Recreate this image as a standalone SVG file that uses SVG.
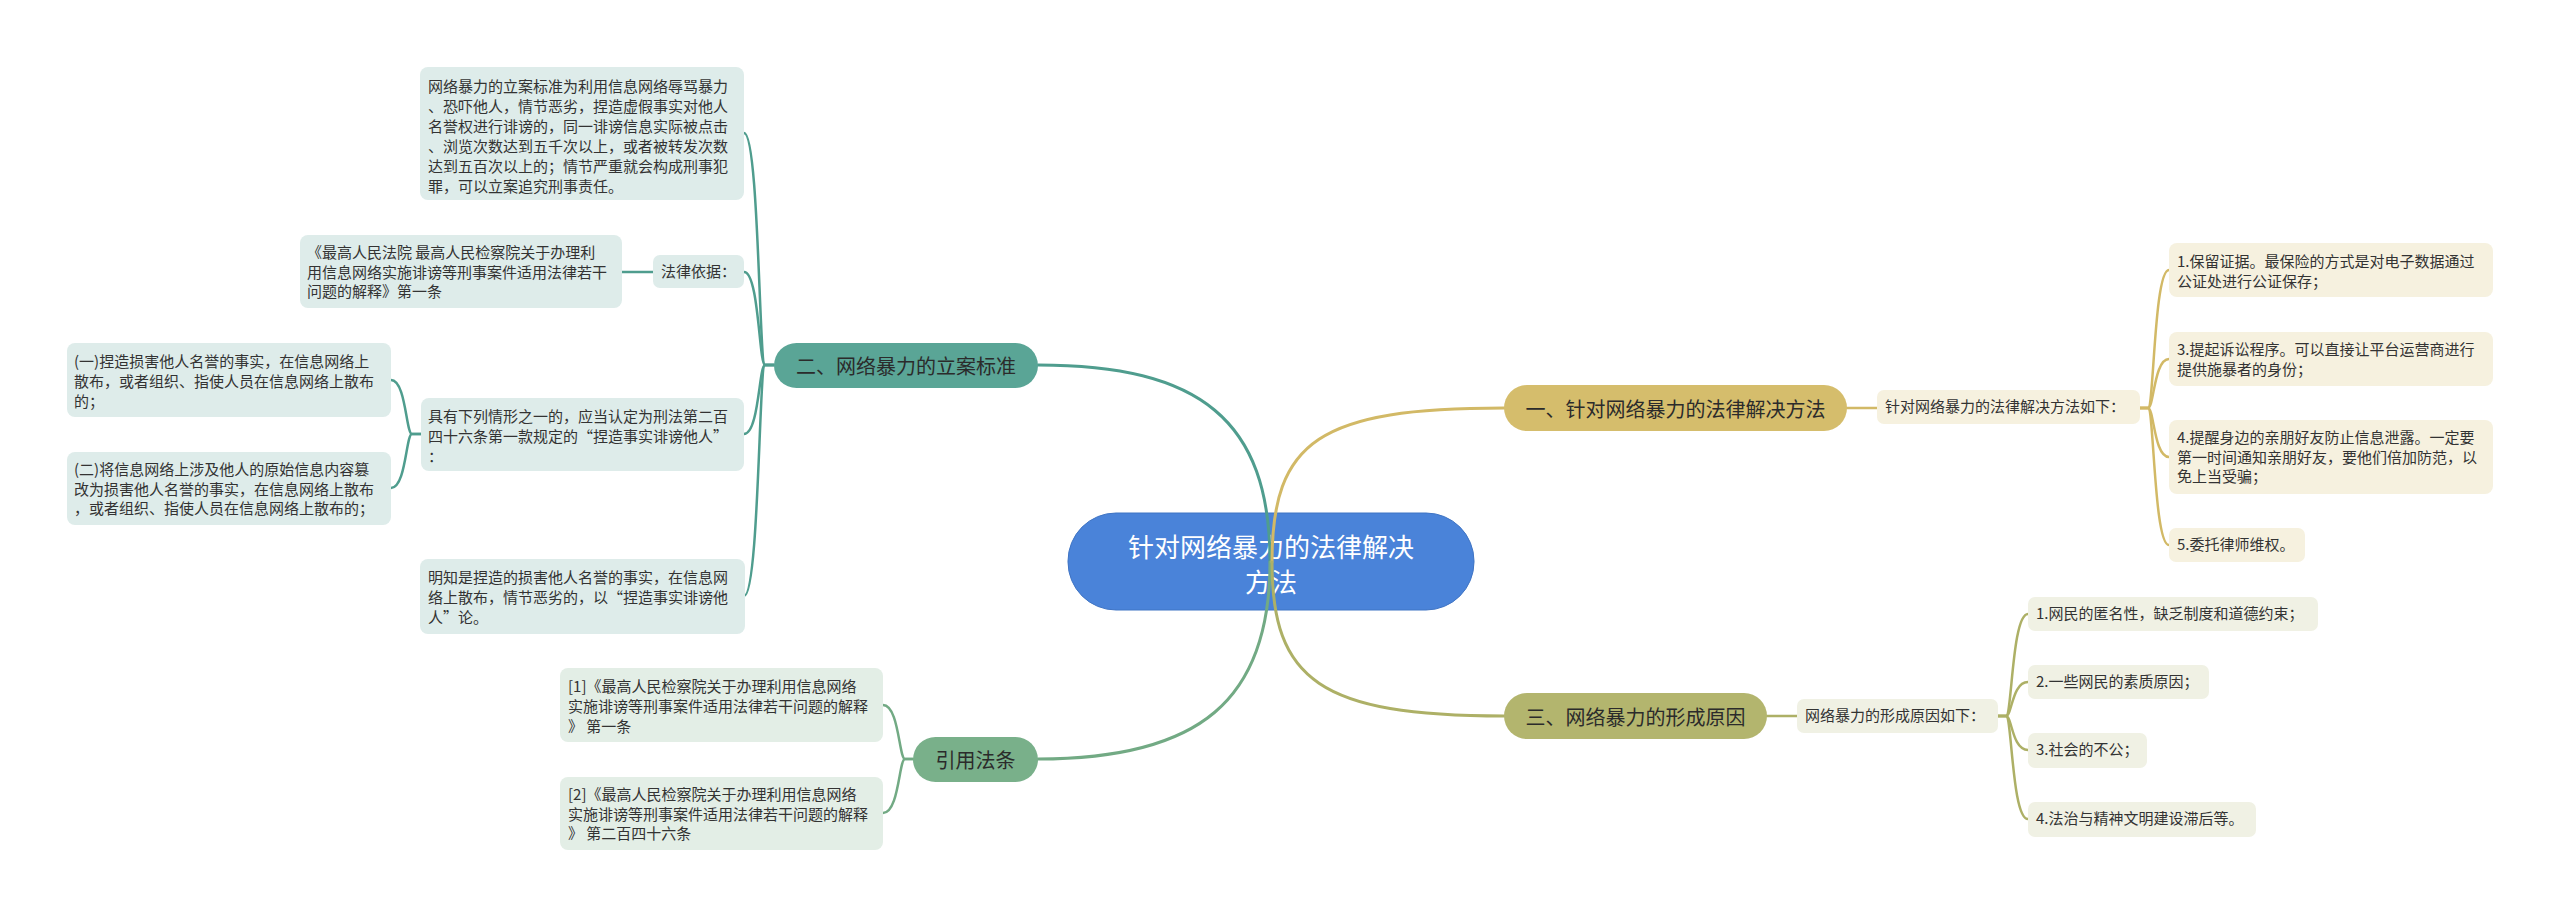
<svg xmlns="http://www.w3.org/2000/svg" width="2560" height="917" viewBox="0 0 2560 917">
<style>
text{font-family:"Noto Sans CJK SC","Noto Sans",sans-serif;fill:#333;}
.t{font-size:15px;}
.m{font-size:20px;text-anchor:middle;dominant-baseline:central;fill:#2b2b2b;}
.root{font-size:26px;text-anchor:middle;dominant-baseline:central;fill:#fff;}
.c{fill:none;stroke-linecap:round;stroke-width:2.5;}
.main{stroke-width:3;}
.teal{stroke:#4f9d8e;}
.green{stroke:#72aa84;}
.gold{stroke:#d2b966;}
.olive{stroke:#adb066;}
.bt{fill:#deecea;}
.bg{fill:#e3eee6;}
.by{fill:#f6f1df;}
.bo{fill:#f0f1e4;}
</style>
<rect width="2560" height="917" fill="#fff"/>

<g id="root">
<rect x="1068" y="513" width="406" height="97" rx="48" fill="#4a83d9" stroke="#3f74c4" stroke-width="1"/>
<text class="root" x="1271" y="545">针对网络暴力的法律解决</text>
<text class="root" x="1271" y="580">方法</text>
</g>

<g id="connectors">
<path class="c main teal" d="M1270 562 C1270 420 1200 365 1038 365"/>
<path class="c main green" d="M1270 562 C1270 700 1200 759 1038 759"/>
<path class="c main gold" d="M1272 562 C1272 440 1320 408 1504 408"/>
<path class="c main olive" d="M1272 562 C1272 680 1320 716 1504 716"/>

<path class="c teal" d="M774 365 L765 365 C759 365 759 133 744 133"/>
<path class="c teal" d="M774 365 L765 365 C759 365 759 272 744 272"/>
<path class="c teal" d="M774 365 L765 365 C759 365 759 434 744 434"/>
<path class="c teal" d="M774 365 L765 365 C759 365 759 596 744 596"/>
<path class="c teal" d="M622 272 L653 272"/>
<path class="c teal" d="M421 434 L412 434 C406 434 406 380 391 380"/>
<path class="c teal" d="M421 434 L412 434 C406 434 406 488 391 488"/>

<path class="c green" d="M913 759 L905 759 C899 759 899 705 883 705"/>
<path class="c green" d="M913 759 L905 759 C899 759 899 813 883 813"/>

<path class="c gold" d="M1847 408 L1877 408"/>
<path class="c gold" d="M2140 408 L2148 408 C2154 408 2154 270 2169 270"/>
<path class="c gold" d="M2140 408 L2148 408 C2154 408 2154 359 2169 359"/>
<path class="c gold" d="M2140 408 L2148 408 C2154 408 2154 457 2169 457"/>
<path class="c gold" d="M2140 408 L2148 408 C2154 408 2154 545 2169 545"/>

<path class="c olive" d="M1767 716 L1797 716"/>
<path class="c olive" d="M1998 716 L2006 716 C2012 716 2012 614 2028 614"/>
<path class="c olive" d="M1998 716 L2006 716 C2012 716 2012 682 2028 682"/>
<path class="c olive" d="M1998 716 L2006 716 C2012 716 2012 750 2028 750"/>
<path class="c olive" d="M1998 716 L2006 716 C2012 716 2012 819 2028 819"/>
</g>

<g id="n2">
<rect x="774" y="343" width="264" height="45" rx="22.5" fill="#5aa596"/>
<text class="m" x="906" y="365">二、网络暴力的立案标准</text>
</g>
<g id="n2a">
<rect class="bt" x="420" y="67" width="324" height="133" rx="8"/>
<text class="t" x="428" y="92">网络暴力的立案标准为利用信息网络辱骂暴力</text>
<text class="t" x="428" y="112">、恐吓他人，情节恶劣，捏造虚假事实对他人</text>
<text class="t" x="428" y="132">名誉权进行诽谤的，同一诽谤信息实际被点击</text>
<text class="t" x="428" y="152">、浏览次数达到五千次以上，或者被转发次数</text>
<text class="t" x="428" y="172">达到五百次以上的；情节严重就会构成刑事犯</text>
<text class="t" x="428" y="192">罪，可以立案追究刑事责任。</text>
</g>
<g id="n2b">
<rect class="bt" x="653" y="255" width="91" height="33" rx="7"/>
<text class="t" x="661" y="277">法律依据：</text>
</g>
<g id="n2b1">
<rect class="bt" x="300" y="235" width="322" height="73" rx="8"/>
<text class="t" x="307" y="258">《最高人民法院 最高人民检察院关于办理利</text>
<text class="t" x="307" y="278">用信息网络实施诽谤等刑事案件适用法律若干</text>
<text class="t" x="307" y="297">问题的解释》第一条</text>
</g>
<g id="n2c">
<rect class="bt" x="421" y="398" width="323" height="73" rx="8"/>
<text class="t" x="428" y="422">具有下列情形之一的，应当认定为刑法第二百</text>
<text class="t" x="428" y="442">四十六条第一款规定的“捏造事实诽谤他人”</text>
<text class="t" x="428" y="462">：</text>
</g>
<g id="n2c1">
<rect class="bt" x="67" y="343" width="324" height="74" rx="8"/>
<text class="t" x="74" y="367">(一)捏造损害他人名誉的事实，在信息网络上</text>
<text class="t" x="74" y="387">散布，或者组织、指使人员在信息网络上散布</text>
<text class="t" x="74" y="407">的；</text>
</g>
<g id="n2c2">
<rect class="bt" x="67" y="452" width="324" height="73" rx="8"/>
<text class="t" x="74" y="475">(二)将信息网络上涉及他人的原始信息内容篡</text>
<text class="t" x="74" y="495">改为损害他人名誉的事实，在信息网络上散布</text>
<text class="t" x="74" y="514">，或者组织、指使人员在信息网络上散布的；</text>
</g>
<g id="n2d">
<rect class="bt" x="420" y="559" width="325" height="75" rx="8"/>
<text class="t" x="428" y="583">明知是捏造的损害他人名誉的事实，在信息网</text>
<text class="t" x="428" y="603">络上散布，情节恶劣的，以“捏造事实诽谤他</text>
<text class="t" x="428" y="623">人”论。</text>
</g>

<g id="n4">
<rect x="913" y="737" width="125" height="45" rx="22.5" fill="#79b08a"/>
<text class="m" x="975.5" y="759">引用法条</text>
</g>
<g id="n4a">
<rect class="bg" x="560" y="668" width="323" height="74" rx="8"/>
<text class="t" x="568" y="692">[1]《最高人民检察院关于办理利用信息网络</text>
<text class="t" x="568" y="712">实施诽谤等刑事案件适用法律若干问题的解释</text>
<text class="t" x="568" y="732">》 第一条</text>
</g>
<g id="n4b">
<rect class="bg" x="560" y="777" width="323" height="73" rx="8"/>
<text class="t" x="568" y="800">[2]《最高人民检察院关于办理利用信息网络</text>
<text class="t" x="568" y="820">实施诽谤等刑事案件适用法律若干问题的解释</text>
<text class="t" x="568" y="839">》 第二百四十六条</text>
</g>

<g id="n1">
<rect x="1504" y="385" width="343" height="46" rx="23" fill="#d5bd6c"/>
<text class="m" x="1675.5" y="408">一、针对网络暴力的法律解决方法</text>
</g>
<g id="n1a">
<rect class="by" x="1877" y="390" width="263" height="34" rx="7"/>
<text class="t" x="1885" y="412">针对网络暴力的法律解决方法如下：</text>
</g>
<g id="n1a1">
<rect class="by" x="2169" y="243" width="324" height="54" rx="8"/>
<text class="t" x="2177" y="267">1.保留证据。最保险的方式是对电子数据通过</text>
<text class="t" x="2177" y="287">公证处进行公证保存；</text>
</g>
<g id="n1a2">
<rect class="by" x="2169" y="332" width="324" height="54" rx="8"/>
<text class="t" x="2177" y="355">3.提起诉讼程序。可以直接让平台运营商进行</text>
<text class="t" x="2177" y="375">提供施暴者的身份；</text>
</g>
<g id="n1a3">
<rect class="by" x="2169" y="420" width="324" height="74" rx="8"/>
<text class="t" x="2177" y="443">4.提醒身边的亲朋好友防止信息泄露。一定要</text>
<text class="t" x="2177" y="463">第一时间通知亲朋好友，要他们倍加防范，以</text>
<text class="t" x="2177" y="482">免上当受骗；</text>
</g>
<g id="n1a4">
<rect class="by" x="2169" y="528" width="136" height="34" rx="7"/>
<text class="t" x="2177" y="550">5.委托律师维权。</text>
</g>

<g id="n3">
<rect x="1504" y="693" width="263" height="46" rx="23" fill="#b3b56e"/>
<text class="m" x="1635.5" y="716">三、网络暴力的形成原因</text>
</g>
<g id="n3a">
<rect class="bo" x="1797" y="699" width="201" height="34" rx="7"/>
<text class="t" x="1805" y="721">网络暴力的形成原因如下：</text>
</g>
<g id="n3a1">
<rect class="bo" x="2028" y="597" width="290" height="34" rx="7"/>
<text class="t" x="2036" y="619">1.网民的匿名性，缺乏制度和道德约束；</text>
</g>
<g id="n3a2">
<rect class="bo" x="2028" y="665" width="181" height="34" rx="7"/>
<text class="t" x="2036" y="687">2.一些网民的素质原因；</text>
</g>
<g id="n3a3">
<rect class="bo" x="2028" y="733" width="119" height="35" rx="7"/>
<text class="t" x="2036" y="755">3.社会的不公；</text>
</g>
<g id="n3a4">
<rect class="bo" x="2028" y="802" width="228" height="35" rx="7"/>
<text class="t" x="2036" y="824">4.法治与精神文明建设滞后等。</text>
</g>
</svg>
